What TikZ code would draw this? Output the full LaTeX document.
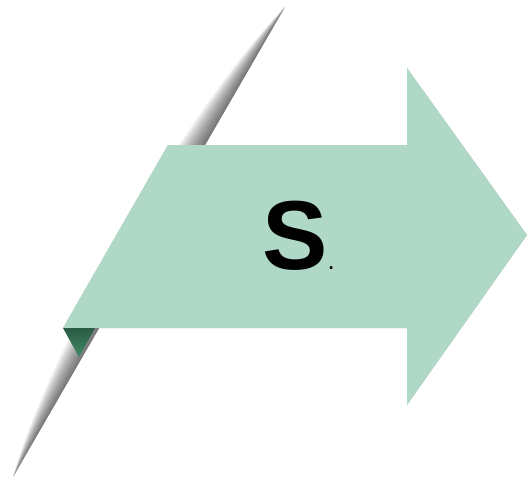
\documentclass[tikz,border=0pt]{standalone}
\usepackage{fontspec}
\setmainfont{Liberation Sans}
\usepackage{xcolor}
\usetikzlibrary{calc}
\definecolor{mint}{HTML}{AFD8C7}
\definecolor{folddark}{HTML}{2B5A44}
\definecolor{foldlight}{HTML}{3F8A68}
\begin{document}
\begin{tikzpicture}[x=1pt,y=-1pt,
    ribbon/.style={fill=mint},
    slit/.style={fill=black,opacity=0.045},
    lift/.style={fill=black,opacity=0.07}]
        \useasboundingbox (0,0) rectangle (531,480);

        \coordinate (sa) at (285,7);
        \coordinate (sb) at (13,477);
        \foreach \o in {2,4,...,34}
            \fill[slit] (sa) .. controls ($(sa)!0.25!(sb)+(-0.866*\o,-0.501*\o)$)
                and ($(sa)!0.75!(sb)+(-0.866*\o,-0.501*\o)$) .. (sb) -- cycle;

        \coordinate (p1) at (168,145);
        \coordinate (p2) at (407,145);
        \coordinate (p3) at (407,68);
        \coordinate (p4) at (527,235);
        \coordinate (p5) at (407,405);
        \coordinate (p6) at (407,328);
        \coordinate (p7) at (63,328);
        \coordinate (f1) at (95,328);
        \coordinate (f2) at (79,357);

        \foreach \s in {1,2,3,4}
            \fill[lift,shift={(0.6*\s,1.5*\s)}] (p1) -- (p2) -- (p3) -- (p4) -- (p5) -- (p6) -- (p7) -- cycle;

        \fill[ribbon] (p1) -- (p2) -- (p3) -- (p4) -- (p5) -- (p6) -- (p7) -- cycle;
        \shade[top color=folddark,bottom color=foldlight] (p7) -- (f1) -- (f2) -- cycle;

        \node[anchor=base west,inner sep=0pt] (lbl) at (262,269)
            {\fontsize{98}{98}\selectfont\bfseries S\fontsize{26}{26}\selectfont\mdseries.};
    \end{tikzpicture}
\end{document}
